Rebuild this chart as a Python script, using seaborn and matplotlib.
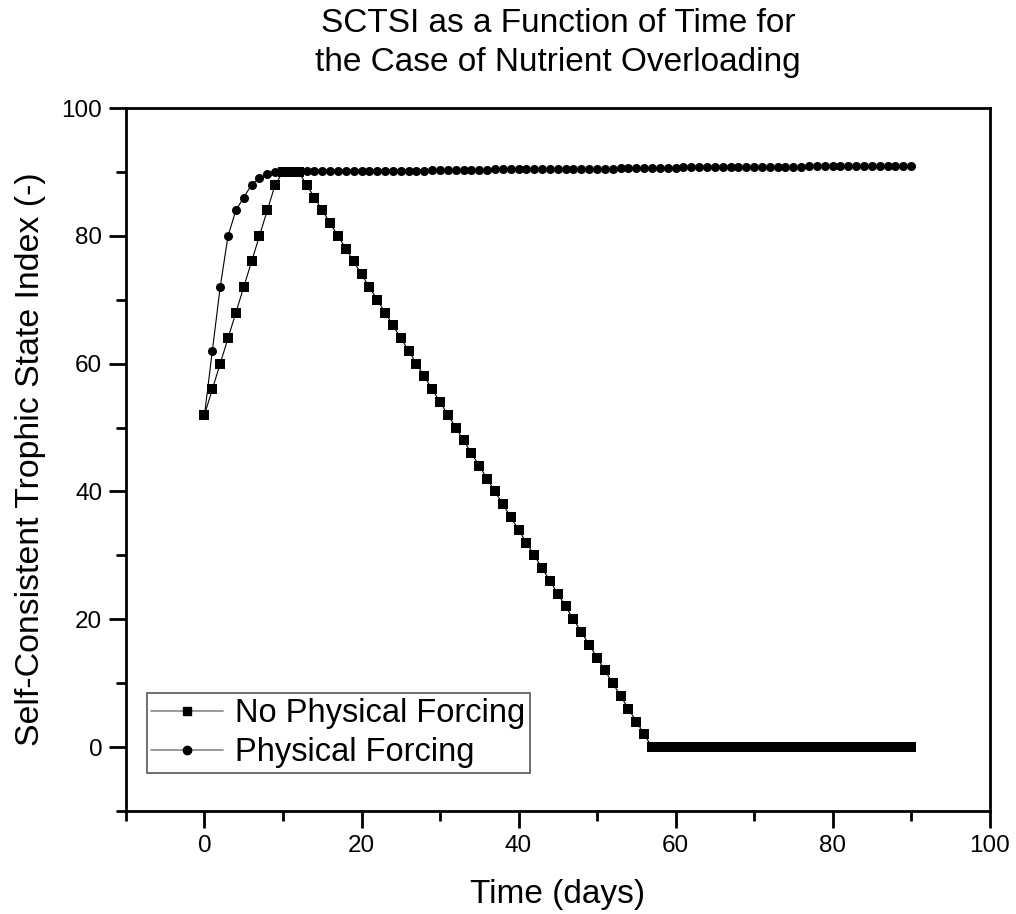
import matplotlib
matplotlib.use("Agg")
import matplotlib.pyplot as plt
from matplotlib.ticker import MultipleLocator
from matplotlib.lines import Line2D
import seaborn as sns
import pandas as pd

days = list(range(0, 91))

no_forcing = [
    52, 56, 60, 64, 68, 72, 76, 80, 84, 88,
    90, 90, 90, 88, 86, 84, 82, 80, 78, 76,
    74, 72, 70, 68, 66, 64, 62, 60, 58, 56,
    54, 52, 50, 48, 46, 44, 42, 40, 38, 36,
    34, 32, 30, 28, 26, 24, 22, 20, 18, 16,
    14, 12, 10, 8, 6, 4, 2, 0, 0, 0,
    0, 0, 0, 0, 0, 0, 0, 0, 0, 0,
    0, 0, 0, 0, 0, 0, 0, 0, 0, 0,
    0, 0, 0, 0, 0, 0, 0, 0, 0, 0,
    0,
]

physical_forcing = [
    52.0, 62.0, 72.0, 80.0, 84.0, 86.0, 88.0, 89.0, 89.6, 90.0,
    90.0, 90.0, 90.0, 90.1, 90.1, 90.1, 90.1, 90.1, 90.1, 90.1,
    90.1, 90.2, 90.2, 90.2, 90.2, 90.2, 90.2, 90.2, 90.2, 90.3,
    90.3, 90.3, 90.3, 90.3, 90.3, 90.3, 90.3, 90.4, 90.4, 90.4,
    90.4, 90.4, 90.4, 90.4, 90.4, 90.5, 90.5, 90.5, 90.5, 90.5,
    90.5, 90.5, 90.5, 90.6, 90.6, 90.6, 90.6, 90.6, 90.6, 90.6,
    90.6, 90.7, 90.7, 90.7, 90.7, 90.7, 90.7, 90.7, 90.7, 90.8,
    90.8, 90.8, 90.8, 90.8, 90.8, 90.8, 90.8, 90.9, 90.9, 90.9,
    90.9, 90.9, 90.9, 90.9, 90.9, 91.0, 91.0, 91.0, 91.0, 91.0,
    91.0,
]

series_names = ["No Physical Forcing", "Physical Forcing"]

df = pd.concat([
    pd.DataFrame({"Time": days, "SCTSI": no_forcing, "Case": series_names[0]}),
    pd.DataFrame({"Time": days, "SCTSI": physical_forcing, "Case": series_names[1]}),
])

sns.set_theme(style="white")
plt.rcParams["font.family"] = ["Liberation Sans", "DejaVu Sans"]
plt.rcParams["text.color"] = "black"
plt.rcParams["axes.labelcolor"] = "black"
plt.rcParams["xtick.color"] = "black"
plt.rcParams["ytick.color"] = "black"

fig = plt.figure(figsize=(10.16, 9.14), dpi=100)
ax = fig.add_axes([0.124, 0.1127, 0.850, 0.7691])

sns.lineplot(
    data=df, x="Time", y="SCTSI", hue="Case", style="Case",
    markers={series_names[0]: "s", series_names[1]: "o"},
    dashes=False, palette={series_names[0]: "black", series_names[1]: "black"},
    linewidth=0.8, markersize=6.5, markeredgewidth=0,
    ax=ax, legend=False,
)

ax.set_xlim(-10, 100)
ax.set_ylim(-10, 100)
ax.xaxis.set_major_locator(MultipleLocator(20))
ax.xaxis.set_minor_locator(MultipleLocator(10))
ax.yaxis.set_major_locator(MultipleLocator(20))
ax.yaxis.set_minor_locator(MultipleLocator(10))
ax.tick_params(axis="both", which="major", direction="out", length=12, width=2,
               color="black", labelcolor="black", labelsize=17.5, pad=5,
               bottom=True, left=True)
ax.tick_params(axis="both", which="minor", direction="out", length=7, width=2,
               color="black", bottom=True, left=True)
ax.tick_params(top=False, right=False, which="both")

for side in ["left", "right", "top", "bottom"]:
    ax.spines[side].set_visible(True)
    ax.spines[side].set_color("black")
    ax.spines[side].set_linewidth(2)

ax.set_xlabel("Time (days)", fontsize=24, labelpad=16, color="black")
ax.set_ylabel("Self-Consistent Trophic State Index (-)", fontsize=24.4,
              labelpad=11, color="black")
ax.set_title("SCTSI as a Function of Time for\nthe Case of Nutrient Overloading",
             fontsize=24, pad=27, linespacing=1.32, color="black")

handles = [
    Line2D([], [], color="#888888", linewidth=1.2, marker="s", markersize=6,
           markerfacecolor="black", markeredgecolor="black"),
    Line2D([], [], color="#888888", linewidth=1.2, marker="o", markersize=6,
           markerfacecolor="black", markeredgecolor="black"),
]
leg = ax.legend(handles, series_names, loc="lower left",
                bbox_to_anchor=(0.024, 0.054), borderaxespad=0,
                fontsize=23.5, frameon=True, fancybox=False, framealpha=1,
                handlelength=2.2, handletextpad=0.37, borderpad=0.14,
                labelspacing=0.26)
for txt in leg.get_texts():
    txt.set_color("black")
leg.get_frame().set_edgecolor("#555555")
leg.get_frame().set_linewidth(1.2)

fig.savefig("out.png", dpi=100)
